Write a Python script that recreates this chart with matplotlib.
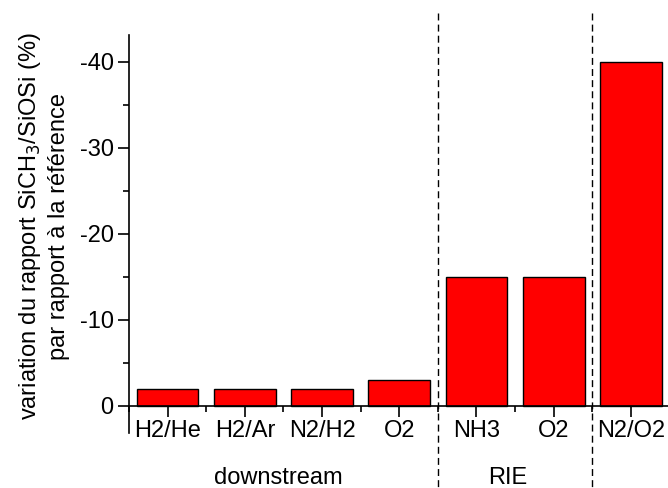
import matplotlib
matplotlib.use("Agg")
import matplotlib.pyplot as plt
import matplotlib.transforms as mtransforms
from matplotlib.ticker import MultipleLocator, FixedLocator

categories = ["H2/He", "H2/Ar", "N2/H2", "O2", "NH3", "O2", "N2/O2"]
values = [-2, -2, -2, -3, -15, -15, -40]
groups = ["downstream", "RIE"]
group_x = [1.44, 4.4]
separators = [3.5, 5.5]
y_ticks = [0, -10, -20, -30, -40]

plt.rcParams['font.family'] = ['Liberation Sans', 'DejaVu Sans']
FS = 17

fig = plt.figure(figsize=(6.68, 4.88), dpi=100)
W, H = 668, 488
ax = fig.add_axes([129 / W, 1 - 433 / H, (668 - 129) / W, (433 - 35) / H])

x = list(range(len(categories)))
ax.bar(x, values, width=0.8, color="#FF0000", edgecolor="black", linewidth=1.0, zorder=3)

ax.set_xlim(-0.5, 6.48)
ax.set_ylim(3.17, -43.1)

ax.spines['top'].set_visible(False)
ax.spines['right'].set_visible(False)
ax.spines['bottom'].set_position(('data', 0))
for s in ('left', 'bottom'):
    ax.spines[s].set_linewidth(1.2)
ax.spines['bottom'].set_zorder(4)

ax.set_xticks(x)
ax.set_xticklabels(categories, fontsize=FS)
ax.xaxis.set_minor_locator(FixedLocator([i + 0.5 for i in range(-1, len(categories))]))
ax.set_yticks(y_ticks)
ax.set_yticklabels([str(v) for v in y_ticks], fontsize=FS)
ax.yaxis.set_minor_locator(MultipleLocator(5))

ax.tick_params(axis='x', which='major', direction='out', length=8, width=1.2, pad=2)
ax.tick_params(axis='x', which='minor', direction='out', length=4, width=1.2)
ax.tick_params(axis='y', which='major', direction='out', length=8, width=1.2, pad=3)
ax.tick_params(axis='y', which='minor', direction='out', length=4, width=1.2)

ax.set_ylabel("variation du rapport SiCH$_3$/SiOSi (%)\npar rapport à la référence",
              fontsize=FS, linespacing=1.3)
ax.yaxis.set_label_coords(-0.11, 0.52)

trans = mtransforms.blended_transform_factory(ax.transData, fig.transFigure)
for xs in separators:
    ax.plot([xs, xs], [1 - 13 / H, 0.0], transform=trans, color="black",
            linestyle=(0, (5, 3)), linewidth=1.0, clip_on=False, zorder=5)

for gx, g in zip(group_x, groups):
    ax.text(gx, 1 - 484 / H, g, transform=trans, ha="center", va="baseline", fontsize=FS)

fig.savefig("out.png", dpi=100)
